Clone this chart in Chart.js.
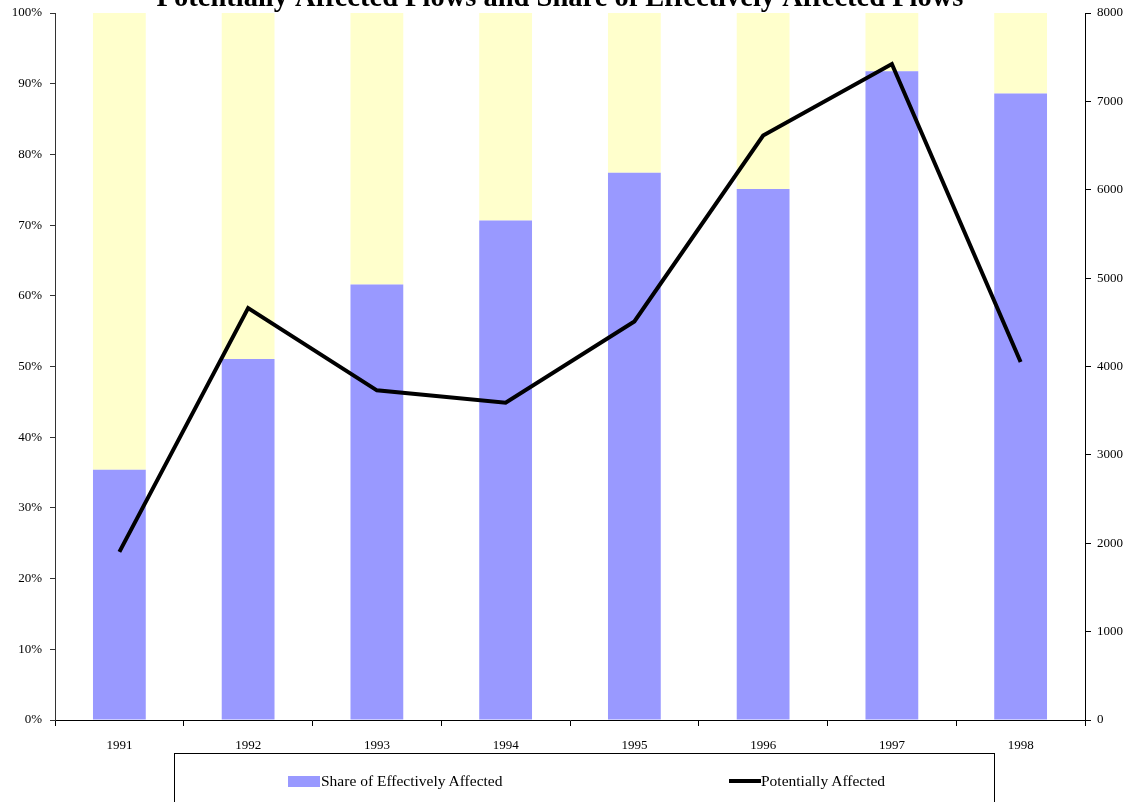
<!DOCTYPE html>
<html>
<head>
<meta charset="utf-8">
<script src="https://cdn.jsdelivr.net/npm/chart.js@4.4.0/dist/chart.umd.min.js"></script>
<style>
  html, body { margin: 0; padding: 0; background: #fff; overflow: hidden; }
  #wrap { position: relative; width: 1137px; height: 802px; }
  #legenda {
    position: absolute; left: 174px; top: 753px; width: 821px; height: 60px;
    border: 1px solid #000; box-sizing: border-box;
    font-family: "Liberation Serif", "Times New Roman", serif; font-size: 15.5px; color: #000;
  }
  .item { position: absolute; top: 18px; height: 18px; line-height: 18px; white-space: nowrap; }
  .caixa { display: inline-block; width: 32px; height: 11px; vertical-align: -1px; margin-right: 1px; }
  .traco { display: inline-block; width: 32px; height: 4px; vertical-align: 3px; background: #000; }
</style>
</head>
<body>
<div id="wrap">
  <canvas id="grafico" width="1137" height="802"></canvas>
  <div id="legenda"></div>
</div>
<script>
const anos = ['1991', '1992', '1993', '1994', '1995', '1996', '1997', '1998'];
const shareEfetivo = [35.4, 51.05, 61.6, 70.65, 77.4, 75.1, 91.75, 88.6];
const potencialmenteAfetado = [1903, 4661, 3730, 3591, 4510, 6613, 7423, 4050];
const restante = shareEfetivo.map(v => 100 - v);
const ticksPercentual = [0, 10, 20, 30, 40, 50, 60, 70, 80, 90, 100];
const ticksFluxos = [0, 1000, 2000, 3000, 4000, 5000, 6000, 7000, 8000];

const tituloTexto = 'Potentially Affected Flows and Share of Effectively Affected Flows';
const fonteSerif = '"Liberation Serif", "Times New Roman", serif';

// titulo desenhado a mao, cortado no topo como na figura
const pluginTitulo = {
    id: 'tituloCortado',
    afterDraw(chart) {
        const ctx = chart.ctx;
        ctx.save();
        ctx.font = 'bold 28.5px ' + fonteSerif;
        ctx.fillStyle = '#000';
        ctx.textAlign = 'center';
        ctx.textBaseline = 'alphabetic';
        ctx.fillText(tituloTexto, 560, 6);
        ctx.restore();
    }
};

function semPaddingVertical(scale) {
    scale.paddingTop = 0;
    scale.paddingBottom = 0;
}

var contexto = document.getElementById('grafico').getContext('2d');
var meuGrafico = new Chart(contexto, {
    type: 'bar',
    data: {
        labels: anos,
        datasets: [
            {
                type: 'line',
                label: 'Potentially Affected',
                data: potencialmenteAfetado,
                yAxisID: 'y1',
                borderColor: '#000',
                borderWidth: 4,
                pointRadius: 0,
                tension: 0,
                fill: false,
                order: 0,
            },
            {
                label: 'Share of Effectively Affected',
                data: shareEfetivo,
                yAxisID: 'y',
                backgroundColor: '#9999FF',
                barPercentage: 0.41,
                categoryPercentage: 1,
                stack: 's',
                order: 1,
            },
            {
                label: 'Remainder',
                data: restante,
                yAxisID: 'y',
                backgroundColor: '#FFFFCC',
                barPercentage: 0.41,
                categoryPercentage: 1,
                stack: 's',
                order: 1,
            },
        ],
    },
    options: {
        responsive: false,
        animation: false,
        layout: { padding: { top: 13, left: 0, right: 0, bottom: 0 } },
        plugins: {
            legend: { display: false },
            title: { display: false },
            tooltip: { enabled: false },
        },
        scales: {
            x: {
                stacked: true,
                offset: true,
                grid: { drawOnChartArea: false, drawTicks: true, tickLength: 6, color: '#000', offset: true },
                border: { color: '#000', width: 1 },
                ticks: { color: '#000', font: { family: fonteSerif, size: 13 }, padding: 12, maxRotation: 0 },
                afterFit(scale) { scale.height = 82; },
            },
            y: {
                position: 'left',
                stacked: true,
                min: 0,
                max: 100,
                afterBuildTicks(scale) { scale.ticks = ticksPercentual.map(v => ({ value: v })); },
                grid: { drawOnChartArea: false, drawTicks: true, tickLength: 5, color: '#333' },
                border: { color: '#333', width: 1 },
                ticks: {
                    color: '#000', font: { family: fonteSerif, size: 13 }, padding: 8,
                    callback: v => v + '%',
                },
                afterFit(scale) { scale.width = 55; semPaddingVertical(scale); },
            },
            y1: {
                position: 'right',
                min: 0,
                max: 8000,
                afterBuildTicks(scale) { scale.ticks = ticksFluxos.map(v => ({ value: v })); },
                grid: { drawOnChartArea: false, drawTicks: true, tickLength: 6, color: '#000' },
                border: { color: '#000', width: 1 },
                ticks: { color: '#000', font: { family: fonteSerif, size: 13 }, padding: 6, callback: v => String(v) },
                afterFit(scale) { scale.width = 52; semPaddingVertical(scale); },
            },
        },
    },
    plugins: [pluginTitulo],
});

// legenda montada a partir dos datasets
var divLegenda = document.getElementById('legenda');
var posicoes = { 'Share of Effectively Affected': 113, 'Potentially Affected': 554 };
meuGrafico.data.datasets.forEach(function (ds) {
    if (!(ds.label in posicoes)) return;
    var item = document.createElement('div');
    item.classList.add('item');
    item.style.left = posicoes[ds.label] + 'px';
    var marca = document.createElement('span');
    if (ds.type === 'line') {
        marca.classList.add('traco');
    } else {
        marca.classList.add('caixa');
        marca.style.background = ds.backgroundColor;
    }
    item.appendChild(marca);
    item.appendChild(document.createTextNode(ds.label));
    divLegenda.appendChild(item);
});
</script>
</body>
</html>
